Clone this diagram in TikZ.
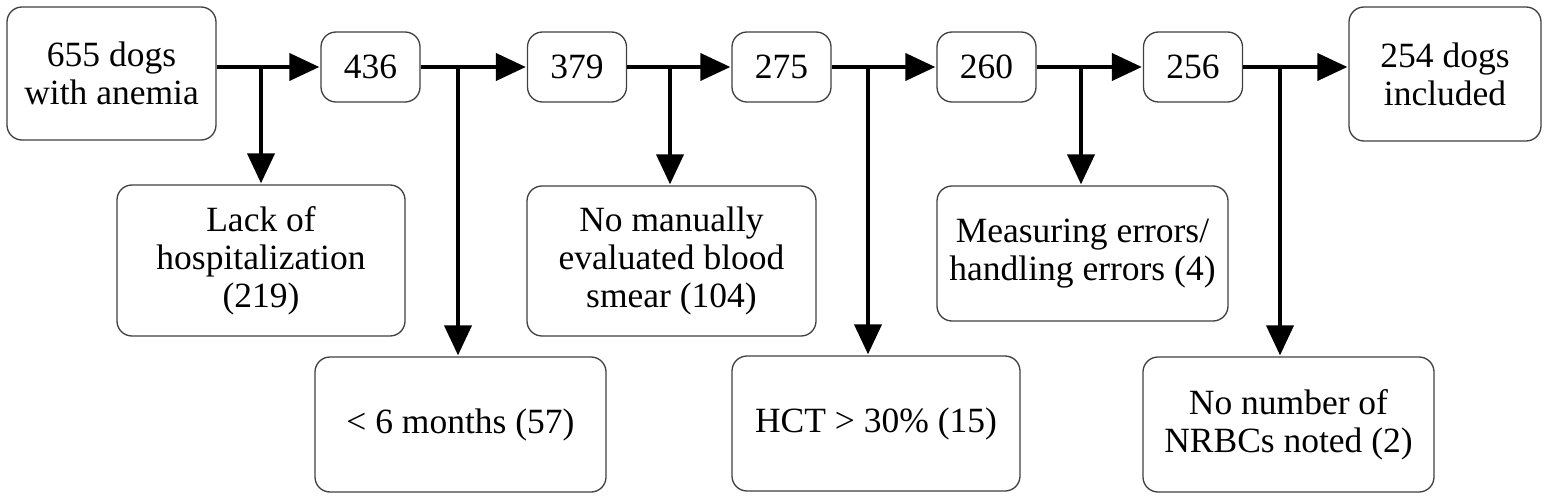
\documentclass[tikz,border=0pt]{standalone}
\usepackage{fontspec}
\setmainfont{Liberation Serif}
\usetikzlibrary{arrows.meta}
\begin{document}
\begin{tikzpicture}[x=1pt,y=-1pt,
  box/.style={draw=black!75, line width=1.3pt, rounded corners=15pt, align=center, inner sep=0pt,
    font=\fontsize{35.5}{38}\selectfont},
  arr/.style={line width=4pt, -{Triangle[length=30pt,width=27pt]}, shorten >=1pt}]
\useasboundingbox[fill=white] (0,0) rectangle (1547,500);
% top row
\node[box, minimum width=209pt, minimum height=133pt] (A) at (111.5,73.5) {655 dogs\\with anemia};
\node[box, minimum width=99pt, minimum height=70pt] (n436) at (370.5,67) {436};
\node[box, minimum width=99pt, minimum height=70pt] (n379) at (577,67) {379};
\node[box, minimum width=99pt, minimum height=70pt] (n275) at (781.5,67) {275};
\node[box, minimum width=99pt, minimum height=70pt] (n260) at (986.5,67) {260};
\node[box, minimum width=99pt, minimum height=70pt] (n256) at (1193,67) {256};
\node[box, minimum width=192pt, minimum height=134pt] (B) at (1445,74) {254 dogs\\included};
% exclusion boxes
\node[box, minimum width=288pt, minimum height=151pt] (lack) at (261,260.5) {Lack of\\hospitalization\\(219)};
\node[box, minimum width=291pt, minimum height=135pt] (six) at (460.5,424.5) {< 6 months (57)};
\node[box, minimum width=289pt, minimum height=150pt] (man) at (671.5,261) {No manually\\evaluated blood\\smear (104)};
\node[box, minimum width=288pt, minimum height=135pt] (hct) at (876,423.5) {HCT > 30\% (15)};
\node[box, minimum width=291pt, minimum height=135pt] (meas) at (1082.5,253.5) {Measuring errors/\\handling errors (4)};
\node[box, minimum width=291pt, minimum height=135pt] (nonum) at (1288.5,424.5) {No number of\\NRBCs noted (2)};
% main flow
\draw[arr] (A.east |- n436.west) -- (n436.west);
\draw[arr] (n436) -- (n379);
\draw[arr] (n379) -- (n275);
\draw[arr] (n275) -- (n260);
\draw[arr] (n260) -- (n256);
\draw[arr] (n256.east) -- (B.west |- n256.east);
% branches
\coordinate (b1) at (261,67);
\coordinate (b2) at (458,67);
\coordinate (b3) at (670,67);
\coordinate (b4) at (868,67);
\coordinate (b5) at (1081,67);
\coordinate (b6) at (1280,67);
\draw[arr] (b1) -- (lack.north -| b1);
\draw[arr] (b2) -- (six.north -| b2);
\draw[arr] (b3) -- (man.north -| b3);
\draw[arr] (b4) -- (hct.north -| b4);
\draw[arr] (b5) -- (meas.north -| b5);
\draw[arr] (b6) -- (nonum.north -| b6);
\end{tikzpicture}
\end{document}
